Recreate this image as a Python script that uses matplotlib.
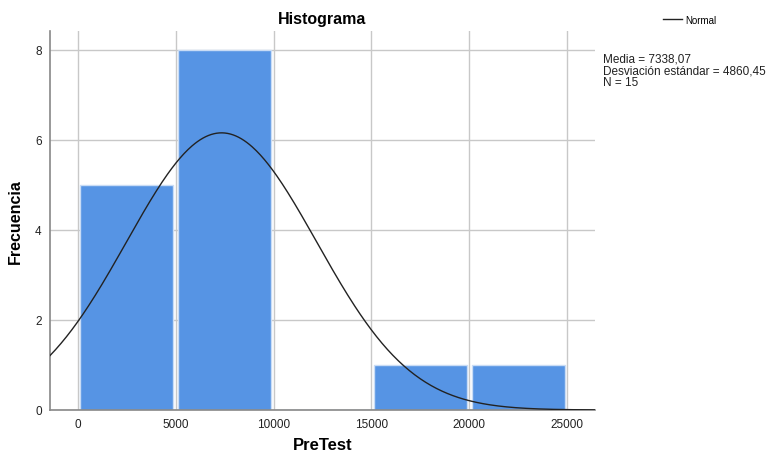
import numpy as np
import matplotlib.pyplot as plt

plt.rcParams['font.family'] = ['Liberation Sans', 'DejaVu Sans']

# histogram data
bin_edges = [0, 5000, 10000, 15000, 20000, 25000]
counts = [5, 8, 0, 1, 1]
media = 7338.07
desv = 4860.45
n = 15

fig = plt.figure(figsize=(7.71, 4.56), dpi=100)
ax = fig.add_axes([0.0649, 0.0987, 0.7069, 0.8313])

lefts = np.array(bin_edges[:-1])
widths = np.diff(bin_edges)
gap = 120  # small white gap between bars, like SPSS
ax.bar(lefts + gap, counts, width=widths - 2 * gap, align='edge', color='#5694e4',
       edgecolor='#c9dcf5', linewidth=1.0, zorder=2)

# normal curve scaled to counts
xs = np.linspace(-1430, 26430, 400)
ys = n * widths[0] * np.exp(-0.5 * ((xs - media) / desv) ** 2) / (desv * np.sqrt(2 * np.pi))
ax.plot(xs, ys, color='#222222', linewidth=1.0, zorder=3, label='Normal')

ax.set_xlim(-1430, 26430)
ax.set_ylim(0, 8.42)
ax.set_xticks([0, 5000, 10000, 15000, 20000, 25000])
ax.set_yticks([0, 2, 4, 6, 8])
ax.grid(True, color='#c8c8c8', linewidth=1.0, zorder=0)
ax.set_axisbelow(True)
for s in ['top', 'right']:
    ax.spines[s].set_visible(False)
for s in ['left', 'bottom']:
    ax.spines[s].set_color('#888888')
    ax.spines[s].set_linewidth(1.2)
ax.tick_params(length=0, labelsize=8.5, colors='#222222', pad=6)

ax.set_title('Histograma', fontsize=11.5, fontweight='bold', pad=6)
ax.set_xlabel('PreTest', fontsize=12, fontweight='bold', labelpad=5)
ax.set_ylabel('Frecuencia', fontsize=11.5, fontweight='bold', labelpad=9)

fig.legend(loc='upper left', bbox_to_anchor=(0.848, 0.985), frameon=False,
           fontsize=7, handlelength=2.0, handletextpad=0.3)
stats = f'Media = {media:.2f}\nDesviación estándar = {desv:.2f}\nN = {n}'.replace('.', ',')
fig.text(0.782, 0.882, stats, fontsize=8.5, va='top', ha='left',
         linespacing=0.95, color='#222222')

fig.savefig('out.png', dpi=100)
